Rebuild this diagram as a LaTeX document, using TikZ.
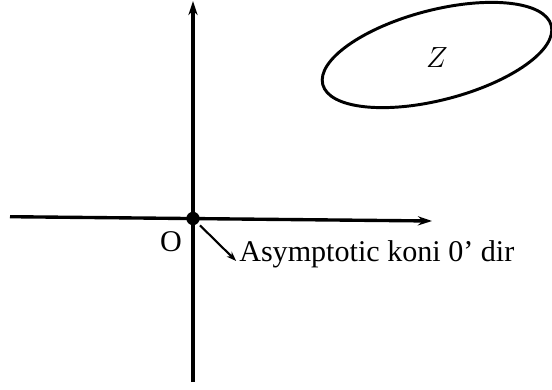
\documentclass[tikz,border=0pt]{standalone}
\usepackage{fontspec}
\setmainfont{Liberation Serif}
\usetikzlibrary{arrows.meta, positioning}

\begin{document}
\begin{tikzpicture}[x=0.025cm,y=0.025cm,
  axis/.style={-{Stealth[length=10pt,width=6.5pt]}, line width=2.4pt},
  pointer/.style={-{Stealth[length=7pt,width=5pt]}, line width=1.5pt, shorten <=2pt},
  region/.style={line width=2.1pt},
  labeltext/.style={inner sep=0pt, font=\fontsize{21.4}{25}\selectfont},
  dot/.style={circle, fill=black, inner sep=0pt, minimum size=9.5pt}]
\useasboundingbox (0,0) rectangle (552,389);
% axes
\coordinate (west) at (10,172.3);
\coordinate (east) at (432,168);
\coordinate (south) at (193,7);
\coordinate (north) at (193,388);
\draw[axis] (west) -- (east);
\draw[axis] (south) -- (north);
\node[dot] (origin) at (193,170.5) {};
\node[labeltext] (olabel) at (171,147) {O};
% the region Z
\draw[region, rotate around={14.5:(437,334)}] (437,334) ellipse (118 and 45);
\node[inner sep=0pt, font=\fontsize{21.5}{24}\selectfont] (zlabel) at (437,331) {$Z$};
% asymptotic direction
\node[labeltext, anchor=base west] (asym) at (239,128) {Asymptotic koni 0' dir};
\draw[pointer] (origin) -- ([xshift=-2pt]asym.base west);
\end{tikzpicture}
\end{document}
